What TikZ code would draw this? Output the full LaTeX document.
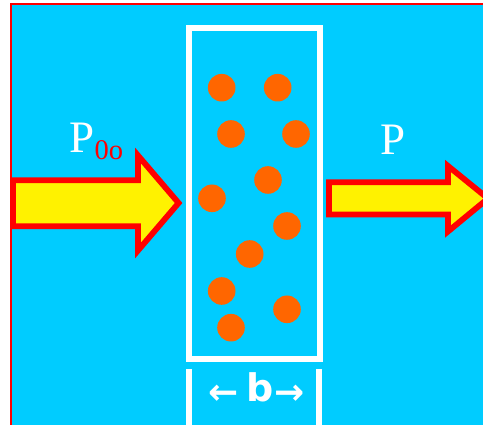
\documentclass[tikz,border=0pt]{standalone}
\usepackage{fontspec}
\setmainfont{Liberation Serif}
\newfontfamily\dejabold{DejaVu Sans}[BoldFont={DejaVu Sans Bold}]
\definecolor{skyb}{HTML}{00CCFF}
\definecolor{dotor}{HTML}{FF6600}
\begin{document}
\begin{tikzpicture}[x=1pt,y=-1pt,
  dotc/.style={fill=dotor,draw=none},
  fatarrow/.style={draw=red,line width=5.8pt,fill=yellow,miter limit=10},
  wline/.style={draw=white,line width=6pt},
  blabel/.style={anchor=base,inner sep=0pt,text=white,font=\dejabold\bfseries}]
\useasboundingbox (0,0) rectangle (483,425);
\clip (0,0) rectangle (483,425);
\fill[white] (0,0) rectangle (483,425);
\path[fill=skyb,draw=red,line width=2pt] (11,4.5) rectangle (495,440);
% sample box
\draw[wline] (189,28) rectangle (319.5,359.5);
\draw[wline] (189.3,369) -- (189.3,430);
\draw[wline] (319.3,369) -- (319.3,430);
% dots
\foreach \x/\y in {221.7/87.7, 277.7/87.7, 231/134, 296/134, 268/180, 212/198.3,
  287/226, 249.7/254, 221.7/291, 287/309.3, 231/327.7}
  \fill[dotc] (\x,\y) circle (13.8);
% arrows
\draw[fatarrow] (13,180.3) -- (138,180.3) -- (138,155.5) -- (178.6,203) -- (138,250.5) -- (138,226.3) -- (13,226.3) -- cycle;
\draw[fatarrow] (329,182.2) -- (448,182.2) -- (448,166) -- (488,198.5) -- (448,231.5) -- (448,214.5) -- (329,214.5) -- cycle;
% labels
\node[anchor=base west,inner sep=0pt] (pin) at (69.5,152.5)
  {\fontsize{45}{45}\selectfont\color{white}P\raisebox{-7.5pt}{\fontsize{28.5}{28.5}\selectfont\color{red}0o}};
\node[anchor=base,inner sep=0pt,text=white] (pout) at (393.3,155)
  {\fontsize{45}{45}\selectfont P};
\node[blabel] (larr) at (223.5,405) {\fontsize{36}{36}\selectfont ←};
\node[blabel] (blab) at (259.7,401.7) {\fontsize{38}{38}\selectfont b};
\node[blabel] (rarr) at (290,405) {\fontsize{36}{36}\selectfont →};
\end{tikzpicture}
\end{document}
